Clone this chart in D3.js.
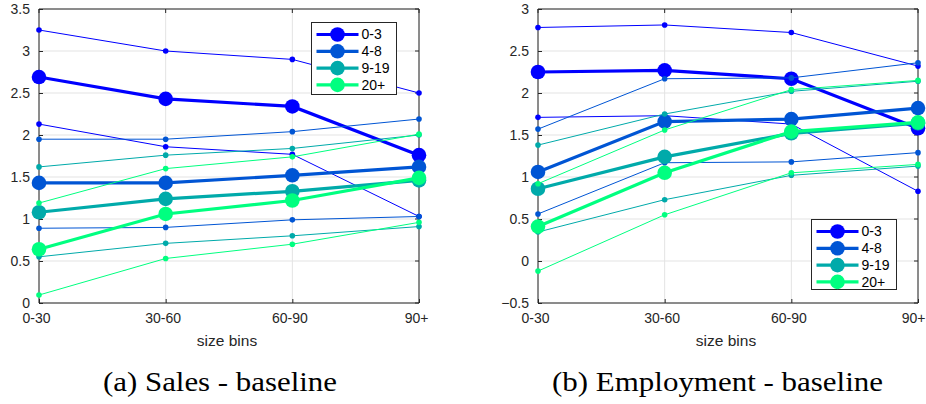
<!DOCTYPE html>
<html>
<head>
<meta charset="utf-8">
<script src="https://cdn.jsdelivr.net/npm/d3@7"></script>
<style>
  html, body { margin: 0; padding: 0; background: #fff; }
  svg text { font-family: "Liberation Sans", Arial, Helvetica, sans-serif; }
  svg text.caption { font-family: "Liberation Serif", "DejaVu Serif", serif; }
</style>
</head>
<body>
<svg id="chart" width="926" height="404"></svg>
<script>
const categories = ["0-30", "30-60", "60-90", "90+"];
const groups = ["0-3", "4-8", "9-19", "20+"];
const colors = ["#0000ff", "#0055d4", "#00aaaa", "#00ff80"];

const salesMain  = [[2.69, 2.43, 2.34, 1.76], [1.43, 1.43, 1.52, 1.62], [1.08, 1.24, 1.33, 1.46], [0.64, 1.06, 1.22, 1.49]];
const salesUpper = [[3.25, 3.00, 2.90, 2.50], [1.95, 1.95, 2.04, 2.19], [1.62, 1.76, 1.84, 2.00], [1.19, 1.60, 1.74, 2.01]];
const salesLower = [[2.13, 1.86, 1.77, 1.03], [0.89, 0.90, 0.99, 1.03], [0.55, 0.71, 0.80, 0.91], [0.095, 0.53, 0.70, 0.96]];

const empMain  = [[2.25, 2.27, 2.17, 1.58], [1.06, 1.66, 1.69, 1.82], [0.86, 1.24, 1.52, 1.64], [0.41, 1.05, 1.54, 1.65]];
const empUpper = [[2.78, 2.81, 2.72, 2.32], [1.57, 2.17, 2.18, 2.36], [1.38, 1.75, 2.02, 2.14], [0.92, 1.56, 2.04, 2.15]];
const empLower = [[1.71, 1.73, 1.63, 0.83], [0.56, 1.17, 1.18, 1.29], [0.345, 0.73, 1.02, 1.13], [-0.12, 0.55, 1.05, 1.15]];

const salesTicks = [0, 0.5, 1, 1.5, 2, 2.5, 3, 3.5];
const empTicks = [-0.5, 0, 0.5, 1, 1.5, 2, 2.5, 3];
const xLabel = "size bins";
const captions = ["(a) Sales - baseline", "(b) Employment - baseline"];

const svg = d3.select("#chart");
const axisColor = "#262626";
const gridColor = "#e3e3e3";

function panel(cfg) {
  const g = svg.append("g");
  const x = d3.scalePoint().domain(categories).range([cfg.x0, cfg.x1]);
  const y = d3.scaleLinear().domain(cfg.domain).range([cfg.yb, cfg.yt]);

  // grid
  g.append("g").selectAll("line").data(cfg.ticks).join("line")
    .attr("x1", cfg.x0).attr("x2", cfg.x1)
    .attr("y1", d => y(d)).attr("y2", d => y(d))
    .attr("stroke", gridColor).attr("stroke-width", 1);
  g.append("g").selectAll("line").data(categories).join("line")
    .attr("x1", d => x(d)).attr("x2", d => x(d))
    .attr("y1", cfg.yt).attr("y2", cfg.yb)
    .attr("stroke", gridColor).attr("stroke-width", 1);

  // box: top and right
  g.append("line").attr("x1", cfg.x0).attr("x2", cfg.x1).attr("y1", cfg.yt).attr("y2", cfg.yt)
    .attr("stroke", axisColor).attr("stroke-width", 1);
  g.append("line").attr("x1", cfg.x1).attr("x2", cfg.x1).attr("y1", cfg.yt).attr("y2", cfg.yb)
    .attr("stroke", axisColor).attr("stroke-width", 1);
  g.append("g").selectAll("line").data(categories).join("line")
    .attr("x1", d => x(d)).attr("x2", d => x(d)).attr("y1", cfg.yt).attr("y2", cfg.yt + 4)
    .attr("stroke", axisColor);
  g.append("g").selectAll("line").data(cfg.ticks).join("line")
    .attr("x1", cfg.x1).attr("x2", cfg.x1 - 4).attr("y1", d => y(d)).attr("y2", d => y(d))
    .attr("stroke", axisColor);

  // axes
  const xa = g.append("g").attr("transform", `translate(0,${cfg.yb})`)
    .call(d3.axisBottom(x).tickSizeInner(-4).tickSizeOuter(0).tickPadding(10));
  const ya = g.append("g").attr("transform", `translate(${cfg.x0},0)`)
    .call(d3.axisLeft(y).tickValues(cfg.ticks).tickFormat(d3.format("")).tickSizeInner(-4).tickSizeOuter(0).tickPadding(9));
  [xa, ya].forEach(a => {
    a.select(".domain").attr("stroke", axisColor).attr("stroke-width", 1);
    a.selectAll(".tick line").attr("stroke", axisColor);
    a.selectAll(".tick text").attr("fill", axisColor).style("font-size", "14px");
  });
  xa.selectAll(".tick text").attr("dx", "-3");
  if (cfg.clampLast) {
    xa.selectAll(".tick text").filter(d => d === categories[categories.length - 1])
      .attr("text-anchor", "end").attr("dx", null).attr("x", 926 - cfg.x1 - 1);
  }
  ya.select(".domain").attr("d", `M0,${cfg.yt}V${cfg.yb}`);
  xa.select(".domain").attr("d", `M${cfg.x0},0H${cfg.x1}`);

  g.append("text").attr("x", (cfg.x0 + cfg.x1) / 2 - 2).attr("y", cfg.yb + 43)
    .attr("text-anchor", "middle").attr("fill", axisColor).style("font-size", "15.5px").text(xLabel);

  // series
  const line = d3.line().x((d, i) => x(categories[i])).y(d => y(d));
  groups.forEach((gname, k) => {
    const sg = g.append("g");
    [cfg.lower[k], cfg.upper[k]].forEach(arr => {
      sg.append("path").attr("d", line(arr)).attr("fill", "none")
        .attr("stroke", colors[k]).attr("stroke-width", 1);
      sg.selectAll(null).data(arr).join("circle")
        .attr("cx", (d, i) => x(categories[i])).attr("cy", d => y(d)).attr("r", 2.8)
        .attr("fill", colors[k]);
    });
    sg.append("path").attr("d", line(cfg.main[k])).attr("fill", "none")
      .attr("stroke", colors[k]).attr("stroke-width", 3.2);
    sg.selectAll(null).data(cfg.main[k]).join("circle")
      .attr("cx", (d, i) => x(categories[i])).attr("cy", d => y(d)).attr("r", 7.3)
      .attr("fill", colors[k]);
  });

  // legend
  const L = cfg.legend;
  const lg = g.append("g");
  lg.append("rect").attr("x", L.x).attr("y", L.y).attr("width", L.w).attr("height", L.h)
    .attr("fill", "#fff").attr("stroke", axisColor).attr("stroke-width", 1);
  groups.forEach((gname, k) => {
    const cy = L.y + 12 + k * 16.8;
    lg.append("line").attr("x1", L.x + 5).attr("x2", L.x + 47).attr("y1", cy).attr("y2", cy)
      .attr("stroke", colors[k]).attr("stroke-width", 3.2);
    lg.append("circle").attr("cx", L.x + 26).attr("cy", cy).attr("r", 7.3).attr("fill", colors[k]);
    lg.append("text").attr("x", L.x + 50).attr("y", cy).attr("dy", "0.35em")
      .attr("fill", "#000").style("font-size", "14px").text(gname);
  });

  svg.append("text").attr("class", "caption").attr("x", cfg.capX).attr("y", 391)
    .attr("text-anchor", "middle").attr("fill", "#000").style("font-size", "27px")
    .attr("textLength", cfg.capW).attr("lengthAdjust", "spacingAndGlyphs").text(cfg.caption);
}

panel({
  x0: 39, x1: 419, yt: 9, yb: 303, domain: [0, 3.5], ticks: salesTicks,
  main: salesMain, upper: salesUpper, lower: salesLower,
  legend: { x: 311.5, y: 22.5, w: 85, h: 72 },
  caption: captions[0], capX: 220, capW: 234
});
panel({
  x0: 538, x1: 918, yt: 9, yb: 303, domain: [-0.5, 3], ticks: empTicks,
  main: empMain, upper: empUpper, lower: empLower,
  legend: { x: 811.5, y: 219.5, w: 85, h: 70 },
  caption: captions[1], capX: 717.5, capW: 331, clampLast: true
});
</script>
</body>
</html>
